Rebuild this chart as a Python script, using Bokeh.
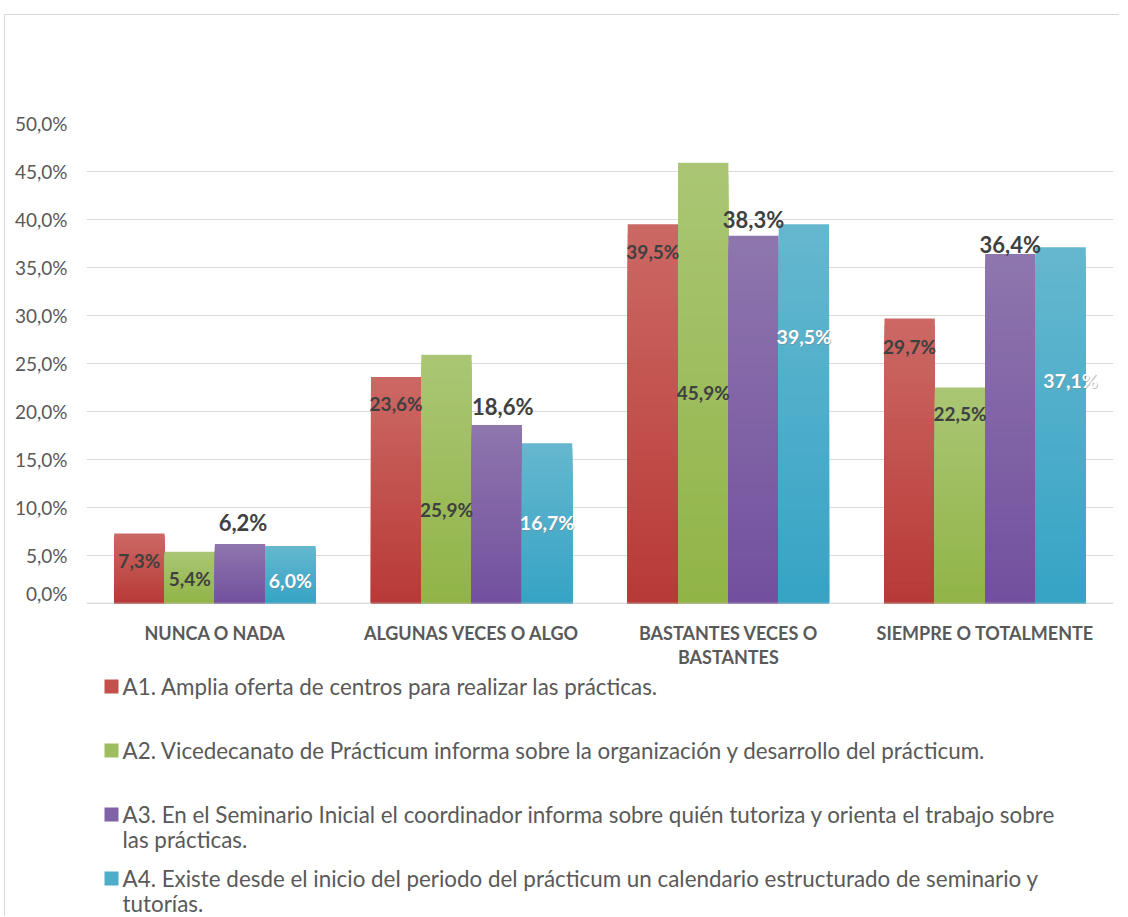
from bokeh.plotting import figure
from bokeh.models import (FactorRange, Range1d, SingleIntervalTicker, CustomJSTickFormatter,
                          ColumnDataSource, Span)
from bokeh.transform import dodge
from bokeh.layouts import column
from bokeh.core.properties import value
from bokeh.embed import file_html
from bokeh.resources import INLINE

# ---------------- data ----------------
categories = ["NUNCA O NADA", "ALGUNAS VECES O ALGO",
              "BASTANTES VECES O BASTANTES", "SIEMPRE O TOTALMENTE"]
category_display = ["NUNCA O NADA", "ALGUNAS VECES O ALGO",
                    "BASTANTES VECES O\nBASTANTES", "SIEMPRE O TOTALMENTE"]

series_names = [
    "A1. Amplia oferta de centros para realizar las prácticas.",
    "A2. Vicedecanato de Prácticum informa sobre la organización y desarrollo del prácticum.",
    "A3. En el Seminario Inicial el coordinador informa sobre quién tutoriza y orienta el trabajo sobre\nlas prácticas.",
    "A4. Existe desde el inicio del periodo del prácticum un calendario estructurado de seminario y\ntutorías.",
]
a1 = [7.3, 23.6, 39.5, 29.7]
a2 = [5.4, 25.9, 45.9, 22.5]
a3 = [6.2, 18.6, 38.3, 36.4]
a4 = [6.0, 16.7, 39.5, 37.1]
series_values = [a1, a2, a3, a4]

# ---------------- styles ----------------
FONT = "Lato"
offsets = [-0.294, -0.098, 0.098, 0.294]
bar_w = 0.196
top_colors = ["#CC6864", "#AAC674", "#8E76AD", "#65B7CF"]
bot_colors = ["#B83A36", "#91B447", "#73509F", "#37A4C5"]
# label pixel offset from bar top (positive = below the top)
label_px = [
    [27, 27, 27, 28],
    [27, 155, 230, 26],
    [-21, -18, -16, -10],
    [35, 79, 112, 133],
]
label_dx = [
    [0, 0, 0, 0],
    [0, 0, 0, 0],
    [3, 6, 0, 0],
    [0, 0, 0, 10],
]
label_colors = ["#404040", "#404040", "#404040", "#FFFFFF"]
label_sizes = ["19px", "19px", "22px", "19.5px"]
label_shadow = [False, False, False, True]
N_SLICES = 40


def hex2rgb(h):
    h = h.lstrip("#")
    return tuple(int(h[i:i + 2], 16) for i in (0, 2, 4))


def mix(c1, c2, t):
    a, b = hex2rgb(c1), hex2rgb(c2)
    return "#%02x%02x%02x" % tuple(int(round(a[i] + (b[i] - a[i]) * t)) for i in range(3))


# page geometry
X0, Y0 = 5, 15                 # content origin inside bordered box
FRAME_L, FRAME_R = 86, 1113
FRAME_T, FRAME_B = 123, 603
W = FRAME_R + 6 - X0
P_H = FRAME_B + 1 - Y0
Q_TOP = Y0 + P_H
Q_H = 312

p = figure(
    x_range=FactorRange(*categories, range_padding=0),
    y_range=Range1d(0, 50),
    width=W, height=P_H,
    min_border_left=FRAME_L - X0, min_border_right=6,
    min_border_top=FRAME_T - Y0, min_border_bottom=1,
    output_backend="svg", toolbar_location=None,
)
p.outline_line_color = None
p.background_fill_color = "white"
p.border_fill_color = "white"
p.xgrid.grid_line_color = None
p.ygrid.grid_line_color = "#d9d9d9"
p.ygrid.grid_line_width = 1
p.xaxis.visible = False

# bars with vertical gradient (light top -> dark bottom)
for s, vals in enumerate(series_values):
    for k in range(N_SLICES):
        frac = 1.0 - k / N_SLICES
        src = ColumnDataSource(dict(cat=categories, top=[v * frac for v in vals]))
        p.vbar(x=dodge("cat", offsets[s], range=p.x_range), top="top", width=bar_w,
               source=src, fill_color=mix(top_colors[s], bot_colors[s], k / (N_SLICES - 1)),
               line_color=None)

p.add_layout(Span(location=0, dimension="width", line_color="#bfbfbf", line_width=1.5))

# data labels
for s, vals in enumerate(series_values):
    src = ColumnDataSource(dict(
        cat=categories, y=vals,
        txt=[("%.1f%%" % v).replace(".", ",") for v in vals],
        yoff=label_px[s], xoff=label_dx[s],
        yoff_sh=[o + 1 for o in label_px[s]], xoff_sh=[o + 1 for o in label_dx[s]],
    ))
    if label_shadow[s]:
        p.text(x=dodge("cat", offsets[s], range=p.x_range), y="y", text="txt", source=src,
               x_offset="xoff_sh", y_offset="yoff_sh",
               text_align="center", text_baseline="middle",
               text_font=value(FONT), text_font_style="bold",
               text_font_size=label_sizes[s], text_color="#7a7a7a", text_alpha=0.45)
    p.text(x=dodge("cat", offsets[s], range=p.x_range), y="y", text="txt", source=src,
           x_offset="xoff", y_offset="yoff",
           text_align="center", text_baseline="middle",
           text_font=value(FONT), text_font_style="bold",
           text_font_size=label_sizes[s], text_color=label_colors[s])

# y axis
p.yaxis.ticker = SingleIntervalTicker(interval=5)
p.yaxis.formatter = CustomJSTickFormatter(code="return tick.toFixed(1).replace('.', ',') + '%';")
p.yaxis.axis_line_color = None
p.yaxis.major_tick_line_color = None
p.yaxis.minor_tick_line_color = None
p.yaxis.major_label_standoff = 13
p.yaxis.major_label_text_font = FONT
p.yaxis.major_label_text_font_size = "19px"
p.yaxis.major_label_text_color = "#595959"

# ---------------- category labels + legend panel ----------------
q = figure(width=W, height=Q_H,
           x_range=Range1d(FRAME_L, FRAME_R), y_range=Range1d(Q_TOP + Q_H, Q_TOP),
           min_border_left=FRAME_L - X0, min_border_right=6,
           min_border_top=0, min_border_bottom=0,
           output_backend="svg", toolbar_location=None,
           x_axis_location=None, y_axis_location=None)
q.outline_line_color = None
q.xgrid.grid_line_color = None
q.ygrid.grid_line_color = None

n_cat = len(categories)
group_w = (FRAME_R - FRAME_L) / n_cat
cat_x = [FRAME_L + (i + 0.5) * group_w for i in range(n_cat)]
q.text(x=cat_x, y=[621] * n_cat, text=category_display,
       text_align="center", text_baseline="top", text_line_height=1.12,
       text_font=value(FONT), text_font_style="bold", text_font_size="18px",
       text_color="#595959")

idx = list(range(len(series_names)))
ly = [686 + 64 * i for i in idx]
q.rect(x=[111] * len(idx), y=ly, width=14, height=14,
       fill_color=[mix(top_colors[i], bot_colors[i], 0.5) for i in idx], line_color=None)
q.text(x=[122] * len(idx), y=[v - 14 for v in ly], text=series_names,
       text_align="left", text_baseline="top", text_line_height=0.94,
       text_font=value(FONT), text_font_size="22.4px", text_color="#595959")

layout = column(p, q, spacing=0,
                styles={"border-top": "1px solid #d9d9d9", "border-left": "1px solid #d9d9d9",
                        "margin-left": "4px", "margin-top": "14px"})

open("out.html", "w").write(file_html(layout, INLINE))
